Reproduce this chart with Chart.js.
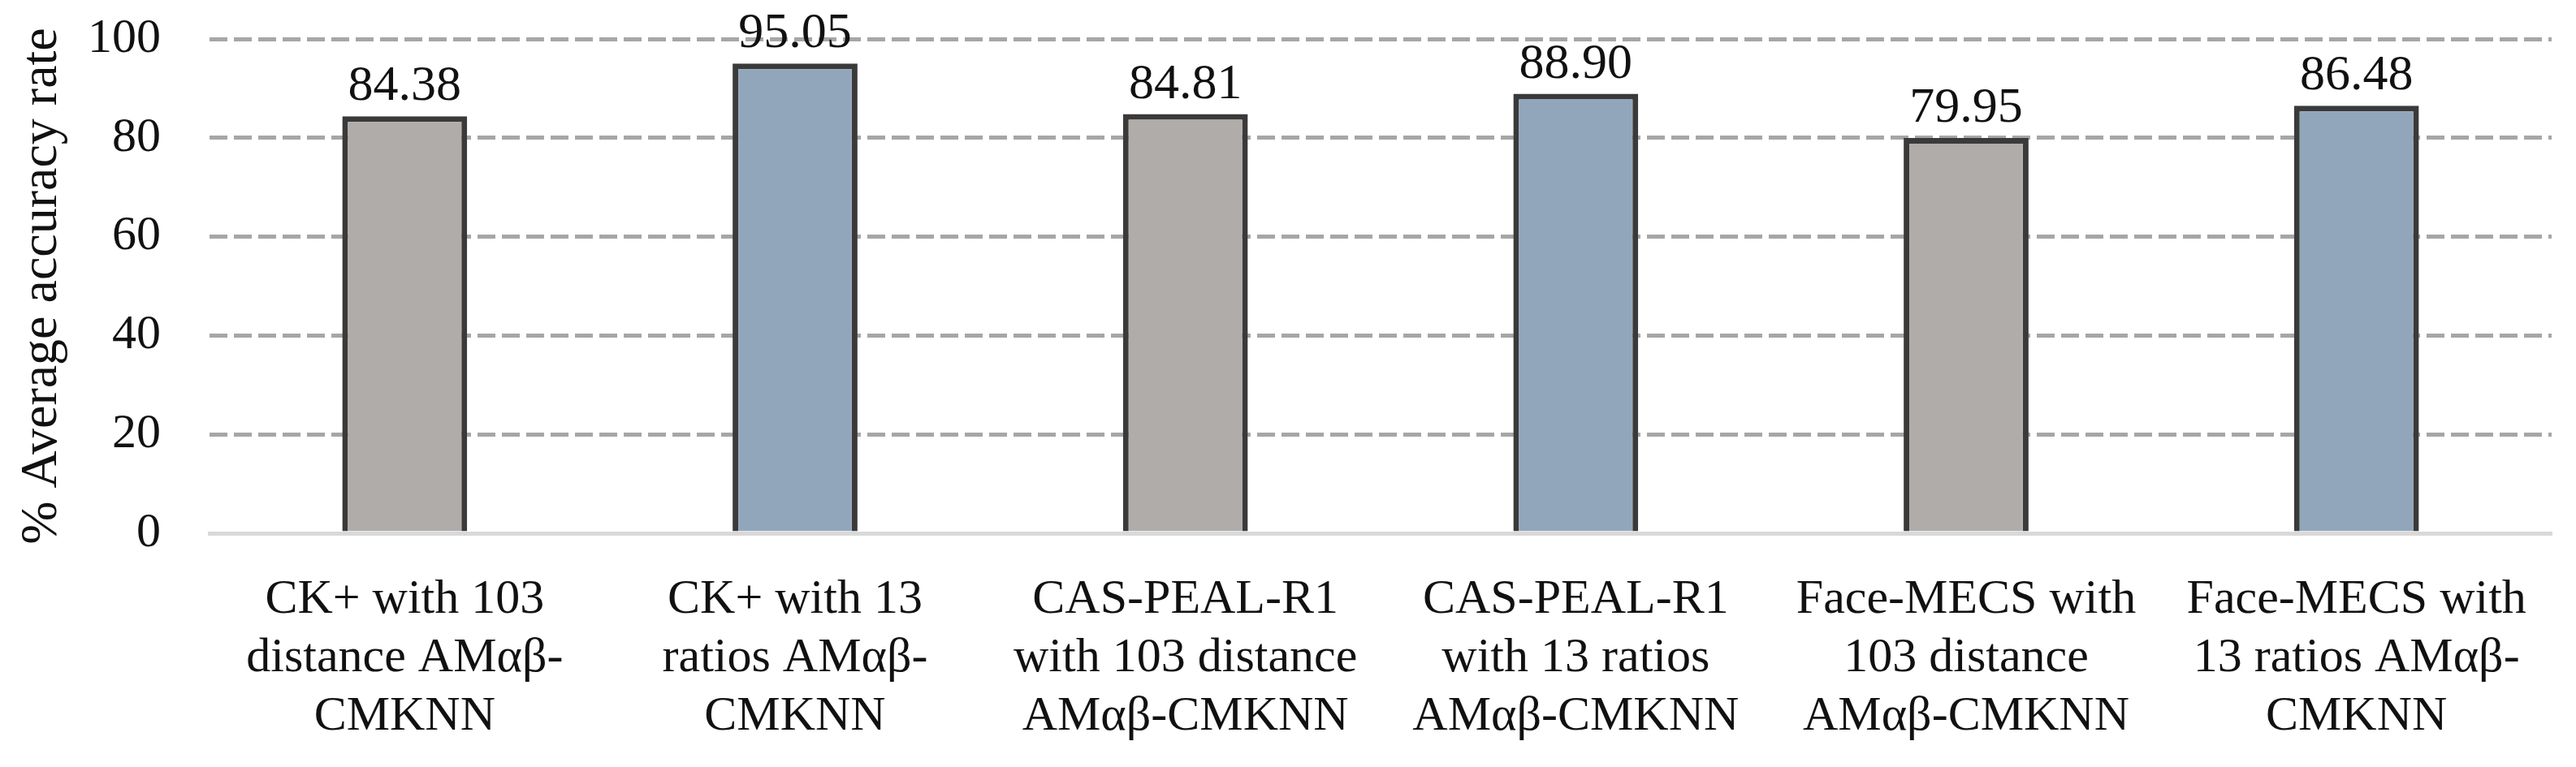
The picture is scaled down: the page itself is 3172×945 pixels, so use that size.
<!DOCTYPE html>
<html>
<head>
<meta charset="utf-8">
<script src="https://cdn.jsdelivr.net/npm/chart.js@4.4.0/dist/chart.umd.min.js"></script>
<style>
  html, body { margin: 0; padding: 0; background: #fff; }
  #wrap { width: 3172px; height: 945px; }
</style>
</head>
<body>
<div id="wrap"><canvas id="myChart" width="3172" height="945"></canvas></div>
<script>
// data
const categories = [
    ['CK+ with 103', 'distance AMαβ-', 'CMKNN'],
    ['CK+ with 13', 'ratios AMαβ-', 'CMKNN'],
    ['CAS-PEAL-R1', 'with 103 distance', 'AMαβ-CMKNN'],
    ['CAS-PEAL-R1', 'with 13 ratios', 'AMαβ-CMKNN'],
    ['Face-MECS with', '103 distance', 'AMαβ-CMKNN'],
    ['Face-MECS with', '13 ratios AMαβ-', 'CMKNN']
]
const accuracy = [84.38, 95.05, 84.81, 88.90, 79.95, 86.48]
const yTicks = [0, 20, 40, 60, 80, 100]
const axisTitle = '% Average accuracy rate'

const barColors = ['#b0acaa', '#92a6bb', '#b0acaa', '#92a6bb', '#b0acaa', '#92a6bb']
const FONT = "'Liberation Serif', serif"

// draws the value above each bar
const valueLabels = {
    id: 'valueLabels',
    afterDatasetsDraw(chart) {
        const ctx = chart.ctx
        const meta = chart.getDatasetMeta(0)
        ctx.save()
        ctx.font = '62px ' + FONT
        ctx.fillStyle = '#111'
        ctx.textAlign = 'center'
        ctx.textBaseline = 'alphabetic'
        meta.data.forEach((bar, i) => {
            ctx.fillText(accuracy[i].toFixed(2), bar.x, bar.y - 20)
        })
        ctx.restore()
    }
}

const myChart = new Chart(document.getElementById('myChart'), {
    type: 'bar',
    data: {
        labels: categories,
        datasets: [{
            data: accuracy,
            backgroundColor: barColors,
            borderColor: '#3a3a3a',
            borderWidth: 7,
            categoryPercentage: 1,
            barPercentage: 0.32
        }]
    },
    options: {
        responsive: false,
        animation: false,
        layout: { padding: { left: 14, right: 30, top: 48, bottom: 0 } },
        plugins: {
            legend: { display: false },
            tooltip: { enabled: false }
        },
        scales: {
            x: {
                grid: { display: false, drawTicks: false },
                border: { display: true, color: '#d9d9d9', width: 5 },
                ticks: {
                    color: '#111',
                    font: { family: FONT, size: 60, lineHeight: 1.2 },
                    padding: 46,
                    maxRotation: 0,
                    autoSkip: false
                },
                afterFit(scale) { scale.height = 288 }
            },
            y: {
                min: 0,
                max: 100,
                afterBuildTicks(scale) { scale.ticks = yTicks.map(v => ({ value: v })) },
                grid: {
                    drawTicks: false,
                    color: c => c.tick && c.tick.value === 0 ? 'rgba(0,0,0,0)' : '#a6a6a6',
                    lineWidth: 5
                },
                border: { display: false, dash: [22, 8] },
                ticks: {
                    color: '#111',
                    font: { family: FONT, size: 60 },
                    padding: 60
                },
                title: {
                    display: true,
                    text: axisTitle,
                    color: '#111',
                    font: { family: FONT, size: 64, lineHeight: 1.2 },
                    padding: { top: 0, bottom: 0 }
                },
                afterFit(scale) {
                    scale.width = 244
                    scale.paddingTop = 0
                    scale.paddingBottom = 0
                }
            }
        }
    },
    plugins: [valueLabels]
})
</script>
</body>
</html>
